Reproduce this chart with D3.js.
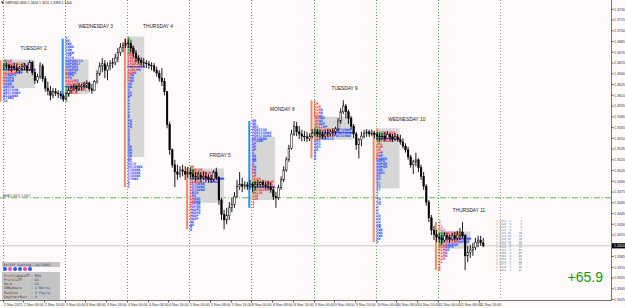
<!DOCTYPE html>
<html>
<head>
<meta charset="utf-8">
<script src="https://d3js.org/d3.v7.min.js"></script>
<style>
html, body { margin: 0; padding: 0; background: #fffafa; }
svg { display: block; font-family: "Liberation Sans", Arial, sans-serif; }
</style>
</head>
<body>
<svg id="chart" width="625" height="308"></svg>
<script>
// GBPUSD hourly bars: [high, low, close]
const tue2 = [
  [1.3655,1.3645,1.3651],[1.3656,1.3647,1.3652],[1.3654,1.3644,1.3648],[1.3652,1.3642,1.3650],
  [1.3655,1.3645,1.3648],[1.3654,1.3642,1.3645],[1.3651,1.3641,1.3647],[1.3654,1.3644,1.3650],
  [1.3655,1.3645,1.3651],[1.3652,1.3641,1.3645],[1.3659,1.3644,1.3656],[1.3658,1.3638,1.3642],
  [1.3645,1.3626,1.3631],[1.3640,1.3627,1.3636],[1.3656,1.3633,1.3651],[1.3654,1.3629,1.3633],
  [1.3637,1.3615,1.3620],[1.3629,1.3610,1.3616],[1.3623,1.3603,1.3610],[1.3620,1.3606,1.3615],
  [1.3620,1.3609,1.3613],[1.3617,1.3606,1.3612],[1.3616,1.3605,1.3609],[1.3612,1.3601,1.3605]];
const wed3 = [
  [1.3615,1.3603,1.3612],[1.3622,1.3609,1.3617],[1.3624,1.3613,1.3620],[1.3626,1.3616,1.3623],
  [1.3624,1.3615,1.3619],[1.3627,1.3616,1.3622],[1.3626,1.3617,1.3623],[1.3629,1.3619,1.3624],
  [1.3631,1.3620,1.3627],[1.3629,1.3615,1.3619],[1.3626,1.3612,1.3617],[1.3631,1.3616,1.3629],
  [1.3645,1.3626,1.3640],[1.3656,1.3637,1.3651],[1.3662,1.3642,1.3654],[1.3659,1.3634,1.3645],
  [1.3656,1.3631,1.3651],[1.3659,1.3645,1.3654],[1.3662,1.3648,1.3656],[1.3668,1.3652,1.3662],
  [1.3676,1.3656,1.3670],[1.3683,1.3665,1.3677],[1.3684,1.3670,1.3680],[1.3689,1.3676,1.3683]];
const thu4 = [
  [1.3689,1.3676,1.3682],[1.3684,1.3670,1.3676],[1.3679,1.3663,1.3669],[1.3673,1.3656,1.3662],
  [1.3666,1.3654,1.3659],[1.3663,1.3651,1.3656],[1.3662,1.3650,1.3655],[1.3659,1.3648,1.3654],
  [1.3658,1.3647,1.3652],[1.3656,1.3645,1.3651],[1.3655,1.3642,1.3645],[1.3650,1.3636,1.3641],
  [1.3645,1.3629,1.3634],[1.3648,1.3623,1.3629],[1.3634,1.3610,1.3615],[1.3615,1.3564,1.3569],
  [1.3573,1.3527,1.3534],[1.3536,1.3509,1.3513],[1.3520,1.3482,1.3503],[1.3513,1.3492,1.3500],
  [1.3511,1.3495,1.3506],[1.3513,1.3497,1.3504],[1.3511,1.3492,1.3500],[1.3510,1.3495,1.3503]];
const fri5 = [
  [1.3509,1.3495,1.3500],[1.3506,1.3493,1.3497],[1.3503,1.3490,1.3496],[1.3504,1.3492,1.3499],
  [1.3503,1.3489,1.3495],[1.3504,1.3492,1.3497],[1.3503,1.3490,1.3495],[1.3500,1.3488,1.3493],
  [1.3499,1.3488,1.3492],[1.3506,1.3489,1.3503],[1.3509,1.3492,1.3495],[1.3497,1.3457,1.3464],
  [1.3467,1.3436,1.3444],[1.3450,1.3423,1.3436],[1.3453,1.3430,1.3442],[1.3461,1.3436,1.3453],
  [1.3467,1.3447,1.3458],[1.3475,1.3453,1.3469],[1.3492,1.3467,1.3483],[1.3503,1.3478,1.3486],
  [1.3495,1.3475,1.3483],[1.3490,1.3479,1.3485],[1.3489,1.3478,1.3483],[1.3492,1.3479,1.3486]];
const mon8 = [
  [1.3489,1.3475,1.3483],[1.3490,1.3478,1.3485],[1.3492,1.3481,1.3486],[1.3490,1.3482,1.3488],
  [1.3492,1.3481,1.3485],[1.3489,1.3479,1.3483],[1.3490,1.3478,1.3482],[1.3488,1.3474,1.3478],
  [1.3483,1.3464,1.3469],[1.3475,1.3453,1.3467],[1.3485,1.3464,1.3481],[1.3497,1.3478,1.3492],
  [1.3511,1.3489,1.3506],[1.3524,1.3503,1.3520],[1.3541,1.3517,1.3536],[1.3562,1.3534,1.3556],
  [1.3574,1.3553,1.3567],[1.3573,1.3553,1.3559],[1.3567,1.3549,1.3556],[1.3562,1.3546,1.3553],
  [1.3560,1.3546,1.3552],[1.3559,1.3545,1.3550],[1.3557,1.3546,1.3553],[1.3563,1.3550,1.3557]];
const tue9 = [
  [1.3564,1.3553,1.3559],[1.3563,1.3552,1.3556],[1.3562,1.3550,1.3555],[1.3560,1.3549,1.3553],
  [1.3562,1.3550,1.3556],[1.3563,1.3552,1.3557],[1.3562,1.3553,1.3559],[1.3564,1.3553,1.3560],
  [1.3566,1.3555,1.3563],[1.3578,1.3559,1.3574],[1.3592,1.3570,1.3587],[1.3603,1.3584,1.3595],
  [1.3598,1.3578,1.3587],[1.3590,1.3570,1.3578],[1.3581,1.3562,1.3567],[1.3570,1.3550,1.3556],
  [1.3559,1.3534,1.3541],[1.3550,1.3522,1.3548],[1.3559,1.3539,1.3553],[1.3562,1.3550,1.3557],
  [1.3563,1.3552,1.3559],[1.3562,1.3552,1.3556],[1.3562,1.3553,1.3557],[1.3560,1.3550,1.3555]];
const wed10 = [
  [1.3559,1.3548,1.3553],[1.3557,1.3546,1.3552],[1.3557,1.3548,1.3553],[1.3559,1.3546,1.3550],
  [1.3560,1.3549,1.3555],[1.3557,1.3546,1.3552],[1.3556,1.3545,1.3549],[1.3557,1.3546,1.3552],
  [1.3556,1.3545,1.3548],[1.3555,1.3541,1.3545],[1.3550,1.3536,1.3539],[1.3543,1.3530,1.3534],
  [1.3538,1.3520,1.3524],[1.3527,1.3509,1.3513],[1.3520,1.3500,1.3517],[1.3530,1.3511,1.3520],
  [1.3522,1.3503,1.3509],[1.3513,1.3492,1.3497],[1.3503,1.3478,1.3483],[1.3486,1.3456,1.3461],
  [1.3464,1.3433,1.3439],[1.3443,1.3415,1.3422],[1.3428,1.3408,1.3416],[1.3422,1.3405,1.3412]];
const thu11 = [
  [1.3418,1.3404,1.3411],[1.3416,1.3402,1.3408],[1.3419,1.3405,1.3414],[1.3418,1.3407,1.3412],
  [1.3416,1.3404,1.3409],[1.3418,1.3407,1.3414],[1.3419,1.3407,1.3411],[1.3421,1.3407,1.3415],
  [1.3425,1.3408,1.3419],[1.3433,1.3411,1.3414],[1.3416,1.3366,1.3386],[1.3400,1.3377,1.3391],
  [1.3401,1.3383,1.3394],[1.3404,1.3386,1.3398],[1.3411,1.3394,1.3405],[1.3414,1.3398,1.3408],
  [1.3414,1.3400,1.3404],[1.3411,1.3398,1.3400]];

const firstOpen = 1.3650;
const dayBars = [tue2, wed3, thu4, fri5, mon8, tue9, wed10, thu11];
const dayNames = ["TUESDAY 2","WEDNESDAY 3","THURSDAY 4","FRIDAY 5","MONDAY 8","TUESDAY 9","WEDNESDAY 10","THURSDAY 11"];
const dayDates = ["2 Nov","3 Nov","4 Nov","5 Nov","8 Nov","9 Nov","10 Nov","11 Nov","12 Nov"];
const priceTicks = [1.3730,1.3715,1.3700,1.3685,1.3670,1.3655,1.3640,1.3625,1.3610,1.3595,1.3580,1.3565,1.3550,1.3535,
                    1.3520,1.3505,1.3490,1.3475,1.3460,1.3445,1.3430,1.3415,1.3400,1.3385,1.3370,1.3355,1.3340,1.3325];
const levelLine = 1.3467;
const settingNames = ["ProfileDataTF","ProfileTF","Hard","IBNumbers","RowSize","DayStartHour"];
const settingValues = ["M30","D1","61","2 Bar(s)","2 Pip(s)","0"];
const switchColors = ["#2f55ff","#ff3fb4","#2f55ff","#2f55ff","#ff3fb4","#2f55ff"];
const resultText = "+65.9";

const svg = d3.select("#chart");
const plotRight = 611.5, plotBottom = 300.5;
const x = d3.scaleLinear().domain([0, 192]).range([2.5, 500.1]);
const y = d3.scaleLinear().domain([priceTicks[0], priceTicks[priceTicks.length - 1]]).range([9.3, 299.55]);

// flatten bars, open = previous close
let prev = firstOpen;
const bars = [];
dayBars.forEach((arr, d) => arr.forEach((b, h) => {
  bars.push({d, h, i: d * 24 + h, o: prev, hi: b[0], lo: b[1], c: b[2]});
  prev = b[2];
}));
const last = bars[bars.length - 1];

svg.append("rect").attr("width", 625).attr("height", 308).attr("fill", "#fffafa");

// day separators
d3.range(0, 9).forEach(d => {
  const xx = Math.round(x(d * 24)) + 0.5;
  svg.append("line").attr("x1", xx).attr("x2", xx).attr("y1", 0).attr("y2", plotBottom)
    .attr("stroke", d * 24 > last.i ? "#9a9a9a" : "#4caf50").attr("stroke-width", 1)
    .attr("stroke-dasharray", "1,2");
});

// horizontal lines
svg.append("line").attr("x1", 0).attr("x2", plotRight).attr("y1", y(levelLine)).attr("y2", y(levelLine))
  .attr("stroke", "#5cb85c").attr("stroke-dasharray", "6,2,1,2");
svg.append("text").attr("x", 3).attr("y", y(levelLine) - 1.2).attr("font-size", 3).attr("fill", "#555")
  .text(`AHA(${levelLine.toFixed(4)}) ${levelLine.toFixed(4)}`);
svg.append("line").attr("x1", 0).attr("x2", plotRight).attr("y1", y(last.c)).attr("y2", y(last.c))
  .attr("stroke", "#c8c8c8");

// market profiles
const rowSize = 0.0004;
const fsTpo = 3.6, charW = fsTpo * 0.602;
const letters = "ABCDEFGHIJKLMNOPQRSTUVWX";
const tpoColor = h => h < 2 ? "#008f00" : (h < 13 ? "#f01818" : "#1a3cff");
const prof = svg.append("g");
const profiles = [];

dayBars.forEach((arr, d) => {
  const db = bars.filter(b => b.d === d);
  const x0 = x(d * 24);
  const rows = new Map();
  db.forEach(b => {
    const b0 = Math.floor(b.lo / rowSize + 1e-6), b1 = Math.floor(b.hi / rowSize + 1e-6);
    for (let k = b0; k <= b1; k++) {
      if (!rows.has(k)) rows.set(k, []);
      rows.get(k).push(b.h);
    }
  });
  const keys = Array.from(rows.keys()).sort((a, b) => a - b);
  const counts = keys.map(k => rows.get(k).length);
  const total = d3.sum(counts);
  const pi = counts.indexOf(d3.max(counts));
  let lo = pi, hi = pi, sum = counts[pi];
  while (sum < 0.7 * total) {
    const up = hi + 1 < keys.length ? counts[hi + 1] : -1;
    const dn = lo - 1 >= 0 ? counts[lo - 1] : -1;
    if (up < 0 && dn < 0) break;
    if (up >= dn) { hi++; sum += up; } else { lo--; sum += dn; }
  }
  const pw = counts[pi] * charW;
  prof.append("rect").attr("x", x0).attr("width", pw)
    .attr("y", y((keys[hi] + 1) * rowSize)).attr("height", y(keys[lo] * rowSize) - y((keys[hi] + 1) * rowSize))
    .attr("fill", "#d6d6d6");
  keys.forEach(k => {
    const hs = rows.get(k);
    const t = prof.append("text").attr("x", x0 + 0.6).attr("y", y((k + 0.5) * rowSize) + 1.25)
      .attr("font-family", "DejaVu Sans Mono").attr("font-weight", "bold").attr("font-size", fsTpo);
    let grp = null;
    hs.forEach(h => {
      const col = tpoColor(h);
      if (!grp || grp.col !== col) { grp = {col, s: ""}; grp.el = t.append("tspan").attr("fill", col); }
      grp.s += letters[h];
      grp.el.text(grp.s);
    });
  });
  const pocY = y((keys[pi] + 0.5) * rowSize);
  prof.append("line").attr("x1", x0).attr("x2", x0 + pw).attr("y1", pocY).attr("y2", pocY)
    .attr("stroke", "#1a3cff").attr("stroke-width", 0.8);
  const dHi = d3.max(db, b => b.hi), dLo = d3.min(db, b => b.lo);
  const up = db[db.length - 1].c > db[0].o;
  prof.append("line").attr("x1", x0 - 2).attr("x2", x0 - 2).attr("y1", y(dHi)).attr("y2", y(dLo))
    .attr("stroke", up ? "#1e90ff" : "#f58a6a").attr("stroke-width", 2);
  profiles.push({d, keys, rows, dHi});
});

// candles
const cg = svg.append("g");
bars.forEach(b => {
  const cx = x(b.i + 0.5);
  const top = Math.max(b.hi, b.o, b.c), bot = Math.min(b.lo, b.o, b.c);
  cg.append("line").attr("x1", cx).attr("x2", cx).attr("y1", y(top)).attr("y2", y(bot))
    .attr("stroke", "#000").attr("stroke-width", 0.9);
  const yt = y(Math.max(b.o, b.c)), yb = y(Math.min(b.o, b.c));
  cg.append("rect").attr("x", cx - 0.8).attr("width", 1.6)
    .attr("y", yt).attr("height", Math.max(0.6, yb - yt))
    .attr("fill", b.c >= b.o ? "#fffafa" : "#000").attr("stroke", "#000").attr("stroke-width", 0.5);
});

// day labels
profiles.forEach(p => {
  svg.append("text").attr("x", x(p.d * 24 + 12)).attr("y", y(p.dHi) - 10.3)
    .attr("text-anchor", "middle").attr("font-size", 4.8).attr("fill", "#222").text(dayNames[p.d]);
});

// profile table for the last day
const lp = profiles[profiles.length - 1];
let cum = 0;
lp.keys.slice().reverse().forEach(k => {
  const n = lp.rows.get(k).length;
  cum += n;
  const yy = y((k + 0.5) * rowSize) + 1;
  svg.append("text").attr("x", 496).attr("y", yy).attr("font-family", "DejaVu Sans Mono").attr("font-size", 2.8)
    .attr("fill", "#8c8c8c").text((k * rowSize).toFixed(4));
  svg.append("text").attr("x", 511).attr("y", yy).attr("text-anchor", "end").attr("font-family", "DejaVu Sans Mono")
    .attr("font-size", 2.8).attr("fill", "#5a78c8").text(n);
  svg.append("text").attr("x", 522).attr("y", yy).attr("text-anchor", "end").attr("font-family", "DejaVu Sans Mono")
    .attr("font-size", 2.8).attr("fill", "#5a78c8").text(cum);
});

// right price axis
svg.append("line").attr("x1", plotRight).attr("x2", plotRight).attr("y1", 0).attr("y2", plotBottom).attr("stroke", "#777");
priceTicks.forEach(p => {
  svg.append("line").attr("x1", plotRight).attr("x2", plotRight + 2).attr("y1", y(p)).attr("y2", y(p)).attr("stroke", "#555");
  svg.append("text").attr("x", 614).attr("y", y(p) + 1.3).attr("font-size", 3.6).attr("fill", "#333").text(p.toFixed(4));
});
svg.append("rect").attr("x", 612).attr("y", y(last.c) - 2.6).attr("width", 13).attr("height", 5.2).attr("fill", "#000");
svg.append("text").attr("x", 614).attr("y", y(last.c) + 1.3).attr("font-size", 3.6).attr("fill", "#fff").text(last.c.toFixed(4));

// bottom time axis
svg.append("line").attr("x1", 0).attr("x2", plotRight).attr("y1", plotBottom).attr("y2", plotBottom).attr("stroke", "#777");
d3.range(0, last.i + 1, 8).forEach(t => {
  const d = Math.floor(t / 24), hh = t % 24;
  const xx = Math.round(x(t)) + 0.5;
  svg.append("line").attr("x1", xx).attr("x2", xx).attr("y1", plotBottom).attr("y2", plotBottom + 2).attr("stroke", "#555");
  svg.append("text").attr("x", xx + 0.6).attr("y", 305.5).attr("font-size", 3.6).attr("fill", "#333")
    .text(t === 0 ? "2 Nov 2021" : `${dayDates[d]} ${String(hh).padStart(2, "0")}:00`);
});

// title
svg.append("path").attr("d", "M1,1.5 L4,1.5 L2.5,4 Z").attr("fill", "#333");
svg.append("text").attr("x", 5).attr("y", 4.2).attr("font-size", 3.4).attr("fill", "#222")
  .text(`GBPUSD,M30  ${last.o.toFixed(4)} ${last.hi.toFixed(4)} ${last.lo.toFixed(4)} ${last.c.toFixed(4)}`);

// settings panel
svg.append("rect").attr("x", 2).attr("y", 262).attr("width", 58).attr("height", 5).attr("fill", "#c4c4c4");
svg.append("text").attr("x", 3.5).attr("y", 265.8).attr("font-family", "DejaVu Sans Mono").attr("font-size", 3.3)
  .attr("fill", "#333").text("On/Off Setting: Del(BUS)");
switchColors.forEach((c, i) => {
  svg.append("circle").attr("cx", 5 + i * 5).attr("cy", 269).attr("r", 2).attr("fill", c);
});
svg.append("rect").attr("x", 2).attr("y", 272).attr("width", 58).attr("height", 28).attr("fill", "#c4c4c4");
settingNames.forEach((n, i) => {
  const yy = 276.5 + i * 4.3;
  svg.append("text").attr("x", 4).attr("y", yy).attr("font-family", "DejaVu Sans Mono").attr("font-size", 3.3)
    .attr("fill", "#333").text(n);
  svg.append("text").attr("x", 31).attr("y", yy).attr("font-family", "DejaVu Sans Mono").attr("font-size", 3.3)
    .attr("fill", "#333").text(": " + settingValues[i]);
});

// result
svg.append("text").attr("x", 603).attr("y", 282).attr("text-anchor", "end").attr("font-size", 14)
  .attr("fill", "#0f9a0f").text(resultText);
</script>
</body>
</html>
